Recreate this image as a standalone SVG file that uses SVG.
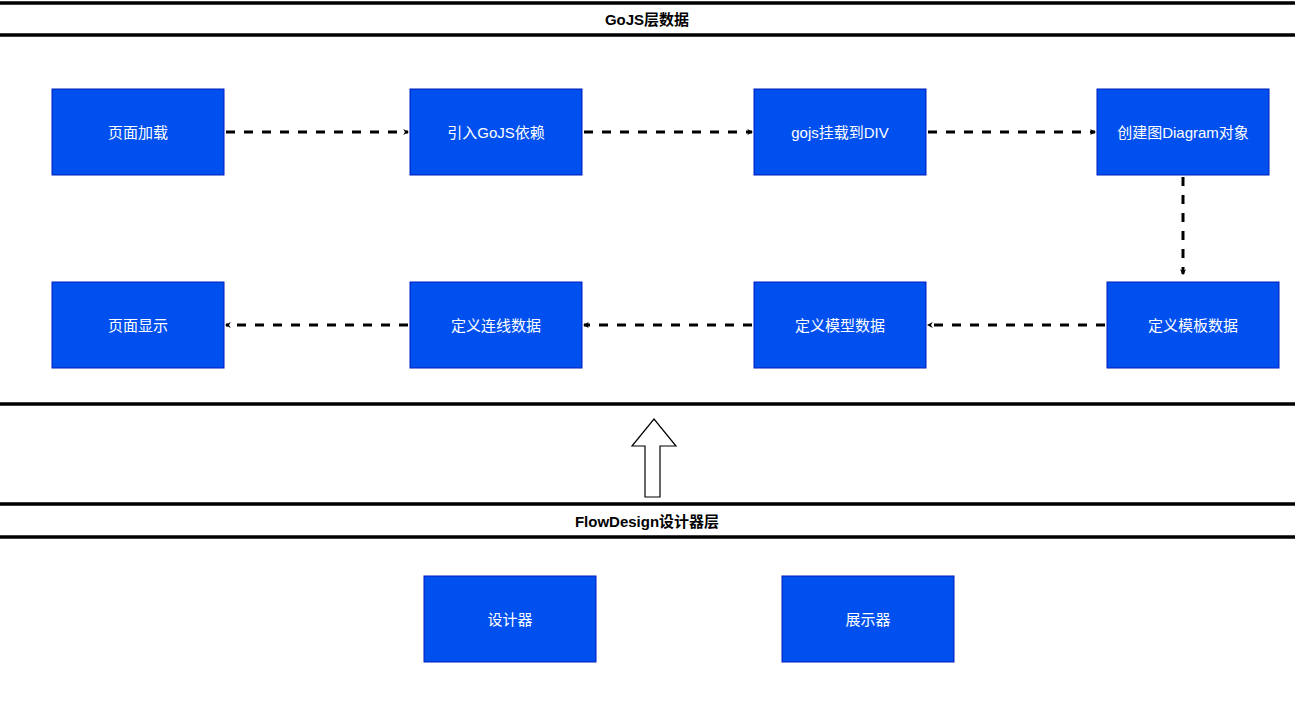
<svg xmlns="http://www.w3.org/2000/svg" width="1295" height="701" viewBox="0 0 1295 701">
<style>
.n rect{fill:#0050ef;stroke:#001dbc;stroke-width:1}
.n text{fill:#fff;font:15px "Liberation Sans","Noto Sans CJK SC",sans-serif;text-anchor:middle;dominant-baseline:central}
.h{fill:#000;font:bold 15px "Liberation Sans","Noto Sans CJK SC",sans-serif;text-anchor:middle;dominant-baseline:central}
.bar{stroke:#000;stroke-width:3.5}
.e{stroke:#000;stroke-width:3;stroke-dasharray:9 9;fill:none;marker-end:url(#a)}
</style>
<defs><marker id="a" viewBox="0 0 10 10" refX="8" refY="5" markerWidth="6" markerHeight="6" markerUnits="userSpaceOnUse" orient="auto"><path d="M0,0 L10,5 L0,10 L3,5 Z" fill="#000"/></marker></defs>
<marker id="dummy"/>
<rect width="1295" height="701" fill="#fff"/>
<g id="lanes">
<line class="bar" x1="0" y1="3" x2="1295" y2="3"/>
<line class="bar" x1="0" y1="35" x2="1295" y2="35"/>
<line class="bar" x1="0" y1="404" x2="1295" y2="404"/>
<line class="bar" x1="0" y1="504" x2="1295" y2="504"/>
<line class="bar" x1="0" y1="537" x2="1295" y2="537"/>
<text class="h" x="647" y="19">GoJS层数据</text>
<text class="h" x="647" y="521">FlowDesign设计器层</text>
</g>
<g id="bigarrow"><path d="M645,497 L660,497 L660,446 L676,446 L654,419 L632,446 L645,446 Z" fill="#fff" stroke="#000" stroke-width="1.2"/></g>
<g id="n1" class="n"><rect x="52" y="89" width="172" height="86"/><text x="138" y="132">页面加载</text></g>
<g id="n2" class="n"><rect x="410" y="89" width="172" height="86"/><text x="496" y="132">引入GoJS依赖</text></g>
<g id="n3" class="n"><rect x="754" y="89" width="172" height="86"/><text x="840" y="132">gojs挂载到DIV</text></g>
<g id="n4" class="n"><rect x="1097" y="89" width="172" height="86"/><text x="1183" y="132">创建图Diagram对象</text></g>
<g id="n5" class="n"><rect x="1107" y="282" width="172" height="86"/><text x="1193" y="325">定义模板数据</text></g>
<g id="n6" class="n"><rect x="754" y="282" width="172" height="86"/><text x="840" y="325">定义模型数据</text></g>
<g id="n7" class="n"><rect x="410" y="282" width="172" height="86"/><text x="496" y="325">定义连线数据</text></g>
<g id="n8" class="n"><rect x="52" y="282" width="172" height="86"/><text x="138" y="325">页面显示</text></g>
<g id="n9" class="n"><rect x="424" y="576" width="172" height="86"/><text x="510" y="619">设计器</text></g>
<g id="n10" class="n"><rect x="782" y="576" width="172" height="86"/><text x="868" y="619">展示器</text></g>
<g id="edges">
<line class="e" x1="226" y1="132" x2="408" y2="132"/>
<line class="e" x1="584" y1="132" x2="752" y2="132"/>
<line class="e" x1="928" y1="132" x2="1095" y2="132"/>
<line class="e" x1="1183" y1="177" x2="1183" y2="274"/>
<line class="e" x1="1105" y1="325" x2="928" y2="325"/>
<line class="e" x1="752" y1="325" x2="584" y2="325"/>
<line class="e" x1="408" y1="325" x2="226" y2="325"/>
</g>
</svg>
